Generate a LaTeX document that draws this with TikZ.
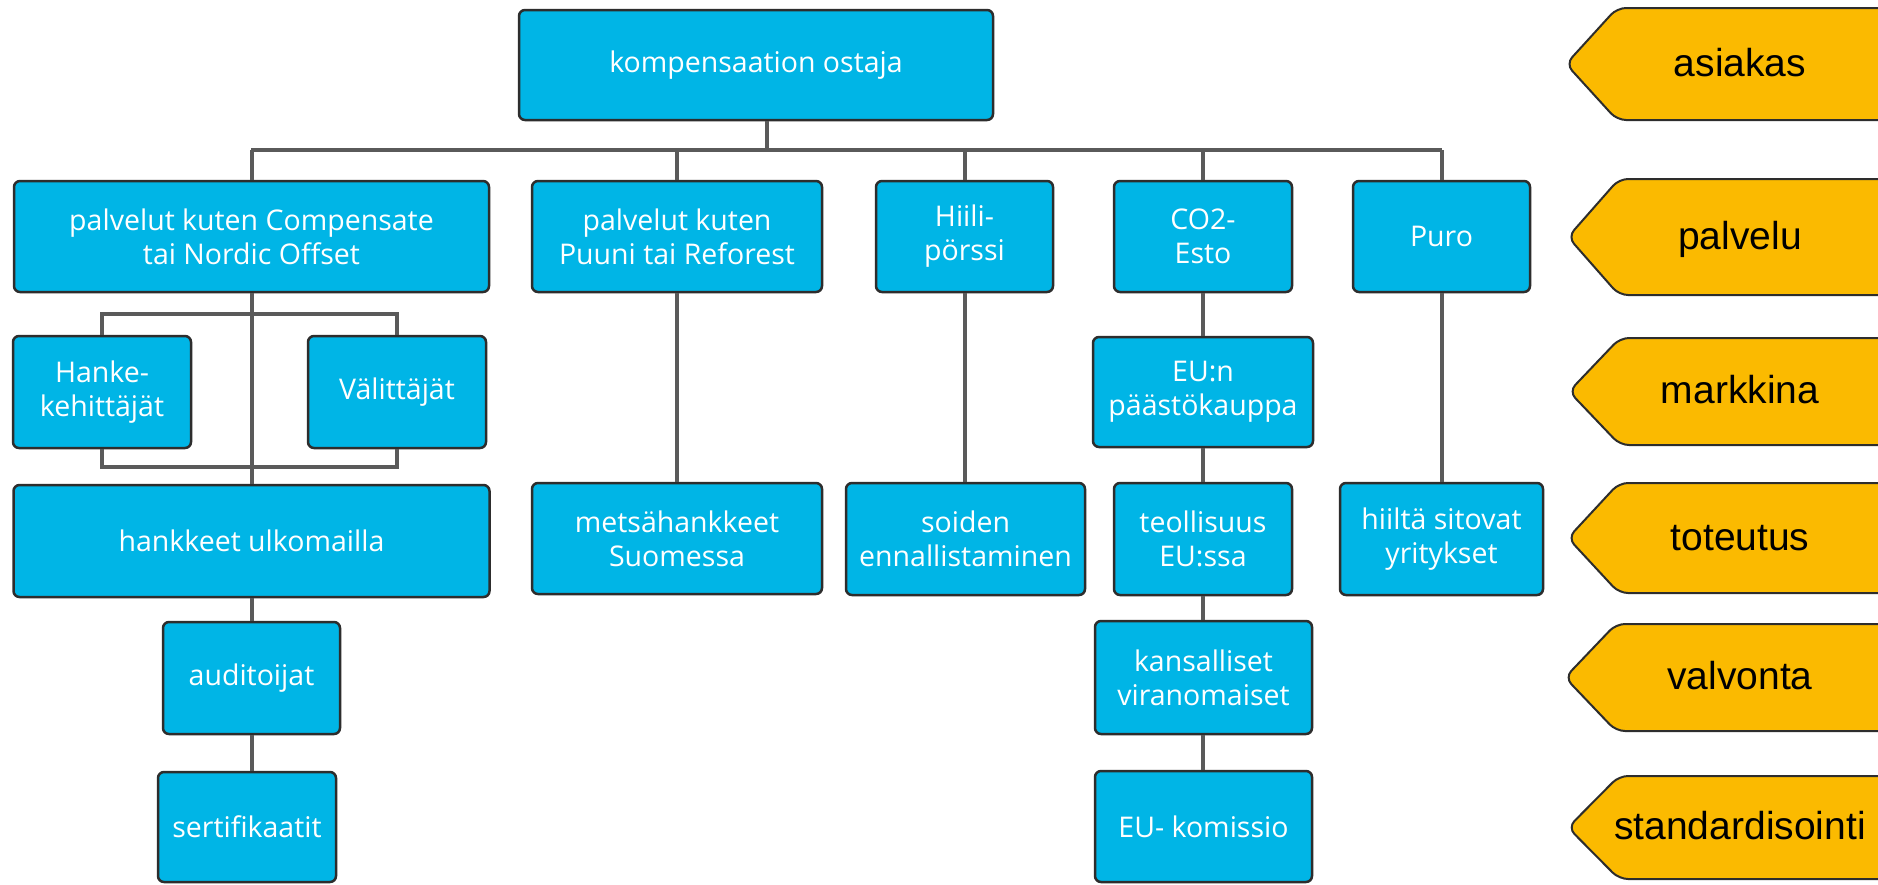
\documentclass[tikz,border=0pt]{standalone}
\usepackage{fontspec}
\setmainfont{Open Sans}
\newfontfamily\tagfont{Liberation Sans}
\definecolor{boxblue}{RGB}{0,181,230}
\definecolor{edgec}{RGB}{45,45,45}
\definecolor{linkc}{RGB}{90,90,90}
\definecolor{tagyellow}{RGB}{251,186,0}
\begin{document}
\begin{tikzpicture}[x=1pt,y=-1pt,
  bx/.style={rectangle, rounded corners=6pt, fill=boxblue, draw=edgec, line width=2.5pt,
    text=white, align=center, font=\fontsize{28.5}{34}\selectfont, inner sep=0pt},
  link/.style={draw=linkc, line width=4pt},
  tagshape/.style={fill=tagyellow, draw=edgec, line width=2pt, rounded corners=9pt},
  taglabel/.style={font=\tagfont\fontsize{39}{44}\selectfont, text=black, inner sep=0pt, anchor=base}]
\useasboundingbox (0,0) rectangle (1878,884);
\fill[white] (0,0) rectangle (1878,884);

% connector helper coordinates
\coordinate (busL) at (251,150);
\coordinate (busR) at (1442,150);
\coordinate (brT) at (0,314);
\coordinate (brB) at (0,467);

% boxes
\node[bx, minimum width=474, minimum height=110] (top) at (756,65) {kompensaation ostaja};

\node[bx, minimum width=475, minimum height=111] (A) at (251.5,236.5) {palvelut kuten Compensate\\tai Nordic Offset};
\node[bx, minimum width=290, minimum height=111] (B) at (677,236.5) {palvelut kuten\\Puuni tai Reforest};
\node[bx, minimum width=177, minimum height=111] (C) at (964.5,236.5) {Hiili-\\pörssi};
\node[bx, minimum width=178, minimum height=111] (D) at (1203,236.5) {CO2-\\Esto};
\node[bx, minimum width=177, minimum height=111] (E) at (1441.5,236.5) {Puro};

\node[bx, minimum width=178, minimum height=112] (hanke) at (102,392) {Hanke-\\kehittäjät};
\node[bx, minimum width=178, minimum height=112] (valit) at (397,392) {Välittäjät};
\node[bx, minimum width=220, minimum height=110] (eun) at (1203,392) {EU:n\\päästökauppa};

\node[bx, minimum width=476, minimum height=112] (hank) at (251.5,541) {hankkeet ulkomailla};
\node[bx, minimum width=290, minimum height=111] (mets) at (677,538.5) {metsähankkeet\\Suomessa};
\node[bx, minimum width=239, minimum height=112] (soid) at (965.5,539) {soiden\\ennallistaminen};
\node[bx, minimum width=178, minimum height=112] (teol) at (1203,539) {teollisuus\\EU:ssa};
\node[bx, minimum width=203, minimum height=112] (hiil) at (1441.5,539) {hiiltä sitovat\\yritykset};

\node[bx, minimum width=177, minimum height=112] (audit) at (251.5,678) {auditoijat};
\node[bx, minimum width=217, minimum height=113] (kans) at (1203.5,677.5) {kansalliset\\viranomaiset};

\node[bx, minimum width=178, minimum height=110] (sert) at (247,827) {sertifikaatit};
\node[bx, minimum width=217, minimum height=111] (komis) at (1203.5,826.5) {EU- komissio};

% connectors
\draw[link] (busL) -- (busR);
\draw[link] ([xshift=11pt]top.south) -- ([xshift=11pt]top.south |- busL);
\foreach \n in {A,B,C,D,E}{\draw[link] (\n.north) -- (\n.north |- busL);}
\draw[link] (A.south) -- (A.south |- hank.north);
\draw[link] (hanke.north) -- (hanke.north |- brT) -- (valit.north |- brT) -- (valit.north);
\draw[link] (hanke.south) -- (hanke.south |- brB) -- (valit.south |- brB) -- (valit.south);
\draw[link] (B.south) -- (B.south |- mets.north);
\draw[link] (C.south) -- (C.south |- soid.north);
\draw[link] (D.south) -- (D.south |- eun.north);
\draw[link] (eun.south) -- (eun.south |- teol.north);
\draw[link] (E.south) -- (E.south |- hiil.north);
\draw[link] (hank.south) -- (hank.south |- audit.north);
\draw[link] (audit.south) -- (audit.south |- sert.north);
\draw[link] (teol.south) -- (teol.south |- kans.north);
\draw[link] (teol.south |- kans.south) -- (teol.south |- komis.north);

% level tags
\begin{scope}
\clip (0,0) rectangle (1878,884);
\foreach \nm/\t/\b/\tx/\lbl in {tA/8/120/1566/asiakas, tB/179/295/1568/palvelu, tC/338/445/1569/markkina, tD/483/593/1568/toteutus, tE/624/731/1565/valvonta, tF/776/879/1568/standardisointi}{
  \path[tagshape] (1900,\t) -- ({\tx+51},\t) -- (\tx,{(\t+\b)/2}) -- ({\tx+51},\b) -- (1900,\b) -- cycle;
  \node[taglabel] (\nm) at (1740,{(\t+\b)/2+12}) {\lbl};
}
\end{scope}
\end{tikzpicture}
\end{document}
